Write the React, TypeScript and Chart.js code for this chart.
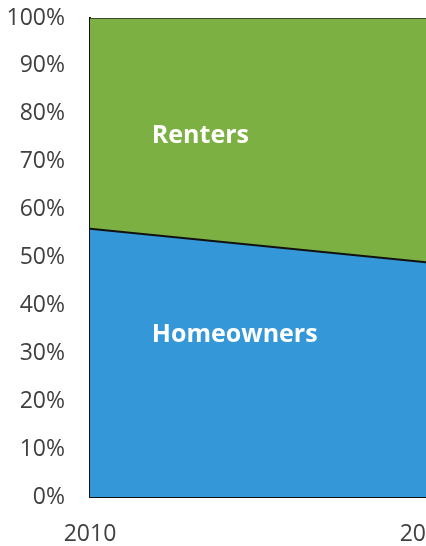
import React, { useEffect, useRef } from "react";
import { Chart, registerables } from "chart.js";

Chart.register(...registerables);

const years = ["2010", "2020"];
const homeowners = [56, 49];
const renters = [44, 51];
const yTicks = [0, 10, 20, 30, 40, 50, 60, 70, 80, 90, 100];

const areaLabels = {
  id: "areaLabels",
  afterDatasetsDraw(chart: any, _args: any, opts: any) {
    const { ctx, scales } = chart;
    ctx.save();
    ctx.fillStyle = "#ffffff";
    ctx.font = "bold 25px 'Open Sans'";
    ctx.textAlign = "left";
    ctx.textBaseline = "alphabetic";
    for (const l of opts.items) {
      const x = scales.x.left + l.fx * (scales.x.right - scales.x.left);
      const y = scales.y.getPixelForValue(l.y);
      ctx.fillText(l.text, x, y);
    }
    ctx.restore();
  },
};

export default function App() {
  const ref = useRef<HTMLCanvasElement>(null);
  useEffect(() => {
    document.body.style.margin = "0";
    if (!ref.current) return;
    const chart = new Chart(ref.current, {
      type: "line",
      data: {
        labels: years,
        datasets: [
          {
            label: "Homeowners",
            data: homeowners,
            backgroundColor: "#3497d7",
            borderColor: "#111111",
            borderWidth: 2,
            pointRadius: 0,
            fill: "origin",
            tension: 0,
          },
          {
            label: "Renters",
            data: renters,
            backgroundColor: "#7db043",
            borderColor: "#2a2a2a",
            borderWidth: 1.5,
            pointRadius: 0,
            fill: "-1",
            tension: 0,
          },
        ],
      },
      options: {
        animation: false,
        responsive: true,
        maintainAspectRatio: false,
        layout: { padding: { top: 20, right: 34, left: 0, bottom: 0 } },
        plugins: {
          legend: { display: false },
          tooltip: { enabled: false },
          areaLabels: {
            items: [
              { text: "Renters", fx: 0.184, y: 73.9 },
              { text: "Homeowners", fx: 0.184, y: 32.4 },
            ],
          },
        } as any,
        scales: {
          x: {
            type: "category",
            offset: false,
            grid: { display: false, drawTicks: true, tickLength: 21 },
            border: { display: true, color: "#111111", width: 2 },
            ticks: {
              padding: 3,
              color: "#404040",
              font: { family: "'Open Sans'", size: 23 },
              maxRotation: 0,
              autoSkip: false,
            },
            afterFit: (s: any) => {
              s.height = 50;
            },
          },
          y: {
            stacked: true,
            min: 0,
            max: 100,
            grid: { display: false, drawTicks: true, tickLength: 22 },
            border: { display: true, color: "#111111", width: 2 },
            afterBuildTicks: (s: any) => {
              s.ticks = yTicks.map((v) => ({ value: v }));
            },
            ticks: {
              padding: 3,
              color: "#404040",
              font: { family: "'Open Sans'", size: 23 },
              callback: (v: any) => v + "%",
            },
            afterFit: (s: any) => {
              s.width = 82;
            },
          },
        },
      },
      plugins: [areaLabels],
    });
    return () => chart.destroy();
  }, []);
  return (
    <div
      style={{
        position: "relative",
        width: 426,
        height: 546,
        overflow: "hidden",
      }}
    >
      <div style={{ position: "absolute", left: 8, top: -2, width: 452, height: 549 }}>
        <canvas ref={ref} />
      </div>
    </div>
  );
}
